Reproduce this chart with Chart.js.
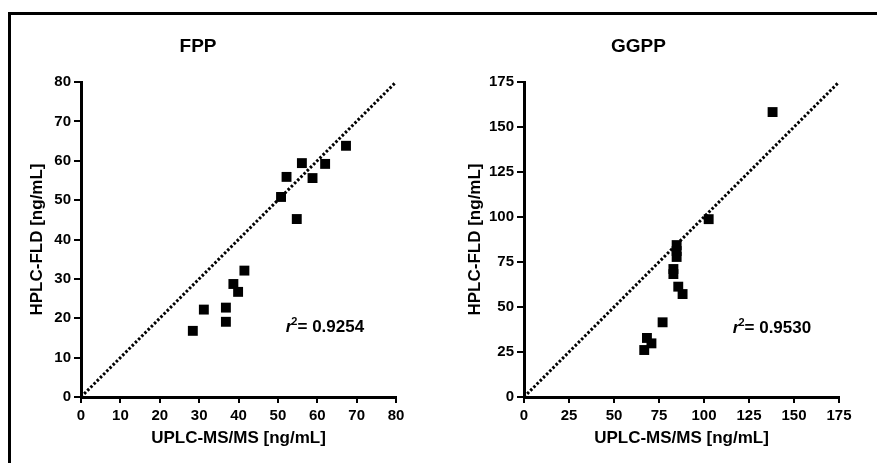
<!DOCTYPE html>
<html>
<head>
<meta charset="utf-8">
<script src="https://cdn.jsdelivr.net/npm/chart.js@4"></script>
<style>
  body { margin: 0; background: #fff; }
  #wrap { position: relative; width: 877px; height: 463px; overflow: hidden; }
  #frame { position: absolute; left: 8px; top: 12px; width: 900px; height: 500px;
           border-top: 3px solid #000; border-left: 3px solid #000; }
  .box { position: absolute; top: 0; height: 463px; }
  #box1 { left: 0; width: 438px; }
  #box2 { left: 438px; width: 439px; }
</style>
</head>
<body>
<div id="wrap">
  <div id="frame"></div>
  <div class="box" id="box1"><canvas id="chartFPP"></canvas></div>
  <div class="box" id="box2"><canvas id="chartGGPP"></canvas></div>
</div>
<script>
// FPP: UPLC-MS/MS (x) vs HPLC-FLD (y), ng/mL
const fppX = [28.4, 31.2, 36.8, 36.8, 38.7, 39.9, 41.5, 50.8, 52.2, 54.8, 56.1, 58.8, 62.0, 67.3];
const fppY = [16.8, 22.2, 22.7, 19.1, 28.7, 26.7, 32.1, 50.8, 55.9, 45.2, 59.4, 55.6, 59.2, 63.8];
const fppR2 = '0.9254';

// GGPP
const ggppX = [66.8, 68.3, 70.8, 77.0, 83.0, 83.0, 84.8, 84.8, 84.8, 85.7, 88.1, 102.6, 138.1];
const ggppY = [26.1, 32.8, 29.8, 41.5, 71.1, 68.3, 84.4, 81.1, 77.8, 61.3, 57.2, 98.8, 158.3];
const ggppR2 = '0.9530';

// identity line end points and axis ranges
const fppLine = [0, 80];
const ggppLine = [0, 175];
const fppTicks = { max: 80, step: 10 };
const ggppTicks = { max: 175, step: 25 };

const FONT = "'Liberation Sans', Arial, sans-serif";

const r2Plugin = {
  id: 'r2label',
  afterDatasetsDraw(chart, args, opts) {
    const ctx = chart.ctx;
    const x = chart.scales.x.getPixelForValue(opts.x);
    const y = chart.scales.y.getPixelForValue(opts.y);
    ctx.save();
    ctx.fillStyle = '#000';
    ctx.textBaseline = 'alphabetic';
    ctx.font = 'italic bold 17px ' + FONT;
    ctx.fillText('r', x, y);
    let w = ctx.measureText('r').width;
    ctx.font = 'bold 11px ' + FONT;
    ctx.fillText('2', x + w - 1, y - 7);
    w += ctx.measureText('2').width - 1;
    ctx.font = 'bold 17px ' + FONT;
    ctx.fillText('= ' + opts.text, x + w, y);
    ctx.restore();
  }
};

function makeChart(id, title, xs, ys, line, ticks, r2, r2pos, padRight, yWidth) {
  const pts = xs.map((x, i) => ({ x: x, y: ys[i] }));
  const linePts = line.map(v => ({ x: v, y: v }));
  const axis = (label, isY) => ({
    type: 'linear',
    min: 0,
    max: ticks.max,
    ticks: {
      stepSize: ticks.step,
      color: '#000',
      padding: isY ? 3 : 4,
      font: { family: FONT, size: 15, weight: 'bold' }
    },
    grid: {
      drawOnChartArea: false,
      drawTicks: true,
      tickLength: isY ? 7 : 6,
      color: '#000',
      lineWidth: 2
    },
    border: { display: true, color: '#000', width: 3 },
    title: {
      display: true,
      text: label,
      color: '#000',
      font: { family: FONT, size: 17, weight: 'bold' },
      padding: isY ? { top: 27, bottom: 27 } : { top: 14, bottom: 14 }
    },
    afterFit(scale) {
      if (isY) scale.width = yWidth;
      else scale.height = 66;
    }
  });

  return new Chart(document.getElementById(id), {
    type: 'scatter',
    data: {
      datasets: [{
        data: linePts,
        showLine: true,
        borderColor: '#000',
        borderWidth: 3,
        borderDash: [2.5, 2],
        pointRadius: 0,
        fill: false
      }, {
        data: pts,
        pointStyle: 'rect',
        pointRadius: 7,
        pointBorderWidth: 0,
        backgroundColor: '#000',
        borderColor: '#000'
      }]
    },
    options: {
      responsive: true,
      maintainAspectRatio: false,
      animation: false,
      layout: { padding: { left: 0, right: padRight, top: 0, bottom: 0 } },
      scales: {
        x: axis('UPLC-MS/MS [ng/mL]', false),
        y: axis('HPLC-FLD [ng/mL]', true)
      },
      plugins: {
        legend: { display: false },
        tooltip: { enabled: false },
        title: {
          display: true,
          text: title,
          color: '#000',
          font: { family: FONT, size: 19, weight: 'bold' },
          padding: { top: 35.6, bottom: 23.6 }
        },
        r2label: { x: r2pos[0], y: r2pos[1], text: r2 }
      }
    },
    plugins: [r2Plugin]
  });
}

makeChart('chartFPP', 'FPP', fppX, fppY, fppLine, fppTicks, fppR2, [52, 16.5], 42, 81);
makeChart('chartGGPP', 'GGPP', ggppX, ggppY, ggppLine, ggppTicks, ggppR2, [116, 35.5], 38, 86);
</script>
</body>
</html>
